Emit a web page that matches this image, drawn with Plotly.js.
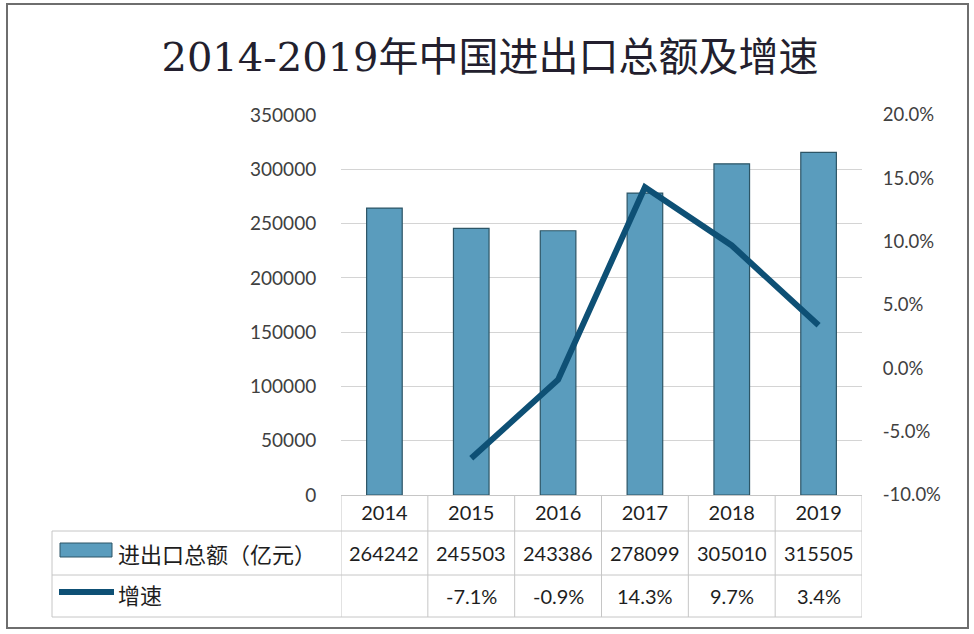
<!DOCTYPE html>
<html>
<head>
<meta charset="utf-8">
<script src="https://cdn.plot.ly/plotly-3.0.1.min.js"></script>
<style>
html,body{margin:0;padding:0;background:#fff;}
#chart{width:974px;height:634px;}
</style>
</head>
<body>
<div id="chart"></div>
<script>
// ---- data ----
var years = ['2014', '2015', '2016', '2017', '2018', '2019'];
var totals = [264242, 245503, 243386, 278099, 305010, 315505];   // 进出口总额（亿元）
var growth = [null, -7.1, -0.9, 14.3, 9.7, 3.4];                  // 增速 (%)
var seriesNames = ['进出口总额（亿元）', '增速'];
var chartTitle = '2014-2019年中国进出口总额及增速';
var leftTicks = [0, 50000, 100000, 150000, 200000, 250000, 300000, 350000];
var rightTicks = [-10, -5, 0, 5, 10, 15, 20];

// ---- geometry helpers (paper coords) ----
var L = 341, R = 862, T = 115, B = 495, W = 974, H = 634;
function px(x){ return (x - L) / (R - L); }
function py(y){ return (B - y) / (B - T); }

var numFont = 'Lato, "Open Sans", sans-serif';
var cjkFont = '"Noto Sans CJK SC", sans-serif';
var gridCol = '#d4d4d4';
var tableCol = '#c6c6c6';
var barCol = '#5a9cbd';
var lineCol = '#0e5075';

var traces = [
  {
    type: 'bar', x: years, y: totals, name: seriesNames[0],
    width: 0.41,
    marker: {color: barCol, line: {color: '#2d5566', width: 1.2}},
    hoverinfo: 'x+y'
  },
  {
    type: 'scatter', mode: 'lines', x: years, y: growth, yaxis: 'y2', name: seriesNames[1],
    line: {color: lineCol, width: 6},
    connectgaps: false,
    hoverinfo: 'x+y'
  }
];

var shapes = [];
var annotations = [];

// outer frame
shapes.push({type: 'rect', xref: 'paper', yref: 'paper',
  x0: px(7), x1: px(968), y0: py(628), y1: py(4),
  line: {color: '#6e6e6e', width: 2}, fillcolor: 'rgba(0,0,0,0)', layer: 'below'});

// table grid
var rowLines = [531, 575, 617];
rowLines.forEach(function(y){
  shapes.push({type: 'line', xref: 'paper', yref: 'paper',
    x0: px(52), x1: px(R), y0: py(y), y1: py(y), line: {color: tableCol, width: 1}});
});
shapes.push({type: 'line', xref: 'paper', yref: 'paper',
  x0: px(52), x1: px(52), y0: py(531), y1: py(617), line: {color: tableCol, width: 1}});
for (var i = 0; i <= years.length; i++) {
  shapes.push({type: 'line', xref: 'x', yref: 'paper',
    x0: i - 0.5, x1: i - 0.5, y0: 0, y1: py(617), line: {color: tableCol, width: 1}});
}

// legend keys inside table
shapes.push({type: 'rect', xref: 'paper', yref: 'paper',
  x0: px(60), x1: px(112), y0: py(557), y1: py(543),
  fillcolor: barCol, line: {color: '#2d5566', width: 1}});
shapes.push({type: 'line', xref: 'paper', yref: 'paper',
  x0: px(59), x1: px(114), y0: py(592), y1: py(592),
  line: {color: lineCol, width: 6}});

// row labels
annotations.push({xref: 'paper', yref: 'paper', x: px(116), y: py(553),
  xanchor: 'left', yanchor: 'middle', showarrow: false, text: seriesNames[0],
  font: {family: cjkFont, size: 22, color: '#1e1e1e'}});
annotations.push({xref: 'paper', yref: 'paper', x: px(116), y: py(594),
  xanchor: 'left', yanchor: 'middle', showarrow: false, text: seriesNames[1],
  font: {family: cjkFont, size: 22, color: '#1e1e1e'}});

// values (category index positions on the x axis)
years.forEach(function(yr, i){
  annotations.push({xref: 'x', yref: 'paper', x: i, y: py(553),
    xanchor: 'center', yanchor: 'middle', showarrow: false,
    text: String(totals[i]), font: {family: numFont, size: 20, color: '#1e1e1e'}});
  if (growth[i] !== null) {
    annotations.push({xref: 'x', yref: 'paper', x: i, y: py(596),
      xanchor: 'center', yanchor: 'middle', showarrow: false,
      text: growth[i].toFixed(1) + '%', font: {family: numFont, size: 20, color: '#1e1e1e'}});
  }
});

var layout = {
  width: W, height: H,
  paper_bgcolor: '#ffffff', plot_bgcolor: '#ffffff',
  margin: {l: L, r: W - R, t: T, b: H - B, pad: 0},
  showlegend: false,
  title: {
    text: chartTitle,
    x: 490 / W, xanchor: 'center', y: 1 - 57 / H, yanchor: 'middle',
    font: {family: '"DejaVu Serif", "Noto Sans CJK SC", serif', size: 40, color: '#231f2e'}
  },
  xaxis: {
    type: 'category', range: [-0.5, 5.5],
    showgrid: false, zeroline: false,
    showline: true, linecolor: tableCol, linewidth: 1,
    ticks: '',
    tickfont: {family: numFont, size: 20, color: '#1e1e1e'},
    fixedrange: true
  },
  yaxis: {
    range: [0, 350000],
    tickvals: leftTicks, ticktext: leftTicks.map(String),
    showgrid: true, gridcolor: gridCol, gridwidth: 1,
    zeroline: false, showline: false,
    ticks: 'outside', ticklen: 20, tickcolor: 'rgba(0,0,0,0)',
    tickfont: {family: numFont, size: 19, color: '#404040'},
    fixedrange: true
  },
  yaxis2: {
    overlaying: 'y', side: 'right',
    range: [-10, 20],
    tickvals: rightTicks, ticktext: rightTicks.map(function(v){ return v.toFixed(1) + '%'; }),
    showgrid: false, zeroline: false, showline: false,
    ticks: 'outside', ticklen: 16, tickcolor: 'rgba(0,0,0,0)',
    tickfont: {family: numFont, size: 18.5, color: '#404040'},
    fixedrange: true
  },
  shapes: shapes,
  annotations: annotations
};

Plotly.newPlot('chart', traces, layout, {displayModeBar: false, staticPlot: true});
</script>
</body>
</html>
